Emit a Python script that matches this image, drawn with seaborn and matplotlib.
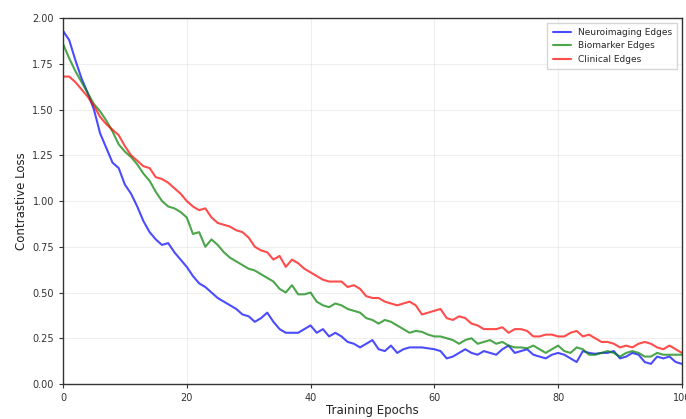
import numpy as np
import pandas as pd
import matplotlib
matplotlib.use("Agg")
import matplotlib.pyplot as plt
import seaborn as sns

epochs = list(range(0, 101))

neuro = [1.93, 1.88, 1.77, 1.67, 1.59, 1.50, 1.37, 1.29, 1.21, 1.18,
         1.09, 1.04, 0.97, 0.89, 0.83, 0.79, 0.76, 0.77, 0.72, 0.68,
         0.64, 0.59, 0.55, 0.53, 0.50, 0.47, 0.45, 0.43, 0.41, 0.38,
         0.37, 0.34, 0.36, 0.39, 0.34, 0.30, 0.28, 0.28, 0.28, 0.30,
         0.32, 0.28, 0.30, 0.26, 0.28, 0.26, 0.23, 0.22, 0.20, 0.22,
         0.24, 0.19, 0.18, 0.21, 0.17, 0.19, 0.20, 0.20, 0.20, 0.195,
         0.19, 0.18, 0.14, 0.15, 0.17, 0.19, 0.17, 0.16, 0.18, 0.17,
         0.16, 0.19, 0.21, 0.17, 0.18, 0.19, 0.16, 0.15, 0.14, 0.16,
         0.17, 0.16, 0.14, 0.12, 0.18, 0.17, 0.165, 0.17, 0.17, 0.18,
         0.14, 0.15, 0.17, 0.16, 0.12, 0.11, 0.15, 0.14, 0.15, 0.12,
         0.11]

biomarker = [1.86, 1.78, 1.71, 1.65, 1.59, 1.53, 1.49, 1.44, 1.38, 1.31,
             1.27, 1.24, 1.20, 1.15, 1.11, 1.05, 1.00, 0.97, 0.96, 0.94,
             0.91, 0.82, 0.83, 0.75, 0.79, 0.76, 0.72, 0.69, 0.67, 0.65,
             0.63, 0.62, 0.60, 0.58, 0.56, 0.52, 0.50, 0.54, 0.49, 0.49,
             0.50, 0.45, 0.43, 0.42, 0.44, 0.43, 0.41, 0.40, 0.39, 0.36,
             0.35, 0.33, 0.35, 0.34, 0.32, 0.30, 0.28, 0.29, 0.285, 0.27,
             0.26, 0.26, 0.25, 0.24, 0.22, 0.24, 0.25, 0.22, 0.23, 0.24,
             0.22, 0.23, 0.21, 0.20, 0.20, 0.195, 0.21, 0.19, 0.17, 0.19,
             0.21, 0.18, 0.17, 0.20, 0.19, 0.16, 0.16, 0.17, 0.18, 0.17,
             0.15, 0.17, 0.18, 0.17, 0.15, 0.15, 0.17, 0.16, 0.16, 0.16,
             0.16]

clinical = [1.68, 1.68, 1.65, 1.61, 1.57, 1.52, 1.46, 1.42, 1.39, 1.36,
            1.30, 1.25, 1.22, 1.19, 1.18, 1.13, 1.12, 1.10, 1.07, 1.04,
            1.00, 0.97, 0.95, 0.96, 0.91, 0.88, 0.87, 0.86, 0.84, 0.83,
            0.80, 0.75, 0.73, 0.72, 0.68, 0.70, 0.64, 0.68, 0.66, 0.63,
            0.61, 0.59, 0.57, 0.56, 0.56, 0.56, 0.53, 0.54, 0.52, 0.48,
            0.47, 0.47, 0.45, 0.44, 0.43, 0.44, 0.45, 0.43, 0.38, 0.39,
            0.40, 0.41, 0.36, 0.35, 0.37, 0.36, 0.33, 0.32, 0.30, 0.30,
            0.30, 0.31, 0.28, 0.30, 0.30, 0.29, 0.26, 0.26, 0.27, 0.27,
            0.26, 0.26, 0.28, 0.29, 0.26, 0.27, 0.25, 0.23, 0.23, 0.22,
            0.20, 0.21, 0.20, 0.22, 0.23, 0.22, 0.20, 0.19, 0.21, 0.19,
            0.17]

series_names = ["Neuroimaging Edges", "Biomarker Edges", "Clinical Edges"]
series_colors = ["blue", "green", "red"]

sns.set_style("ticks")
plt.rcParams['font.family'] = ['DejaVu Sans']

fig = plt.figure(figsize=(6.86, 4.19), dpi=100)
ax = fig.add_axes([0.0918, 0.0835, 0.9022, 0.8735])

for name, vals, col in zip(series_names, [neuro, biomarker, clinical], series_colors):
    df = pd.DataFrame({"epoch": epochs, "loss": vals})
    sns.lineplot(data=df, x="epoch", y="loss", ax=ax, color=col, alpha=0.7,
                 linewidth=1.5, label=name)

ax.set_xlim(0, 100)
ax.set_ylim(0, 2.0)
ax.set_xticks([0, 20, 40, 60, 80, 100])
ax.set_yticks([0.0, 0.25, 0.5, 0.75, 1.0, 1.25, 1.5, 1.75, 2.0])
ax.yaxis.set_major_formatter(matplotlib.ticker.FormatStrFormatter('%.2f'))
ax.tick_params(labelsize=7, length=3, colors='#333333', labelcolor='#333333')
ax.grid(True, alpha=0.3)
for s in ax.spines.values():
    s.set_visible(True)
    s.set_color('#333333')
    s.set_linewidth(1.0)
ax.set_xlabel("Training Epochs", fontsize=8.5, labelpad=1, color='#222222')
ax.set_ylabel("Contrastive Loss", fontsize=8.5, labelpad=3, color='#222222')
leg = ax.legend(loc="upper right", fontsize=6.5, frameon=True, fancybox=False,
                handlelength=2.0, borderpad=0.6)
leg.get_frame().set_edgecolor('#cccccc')

fig.savefig("out.png", dpi=100)
